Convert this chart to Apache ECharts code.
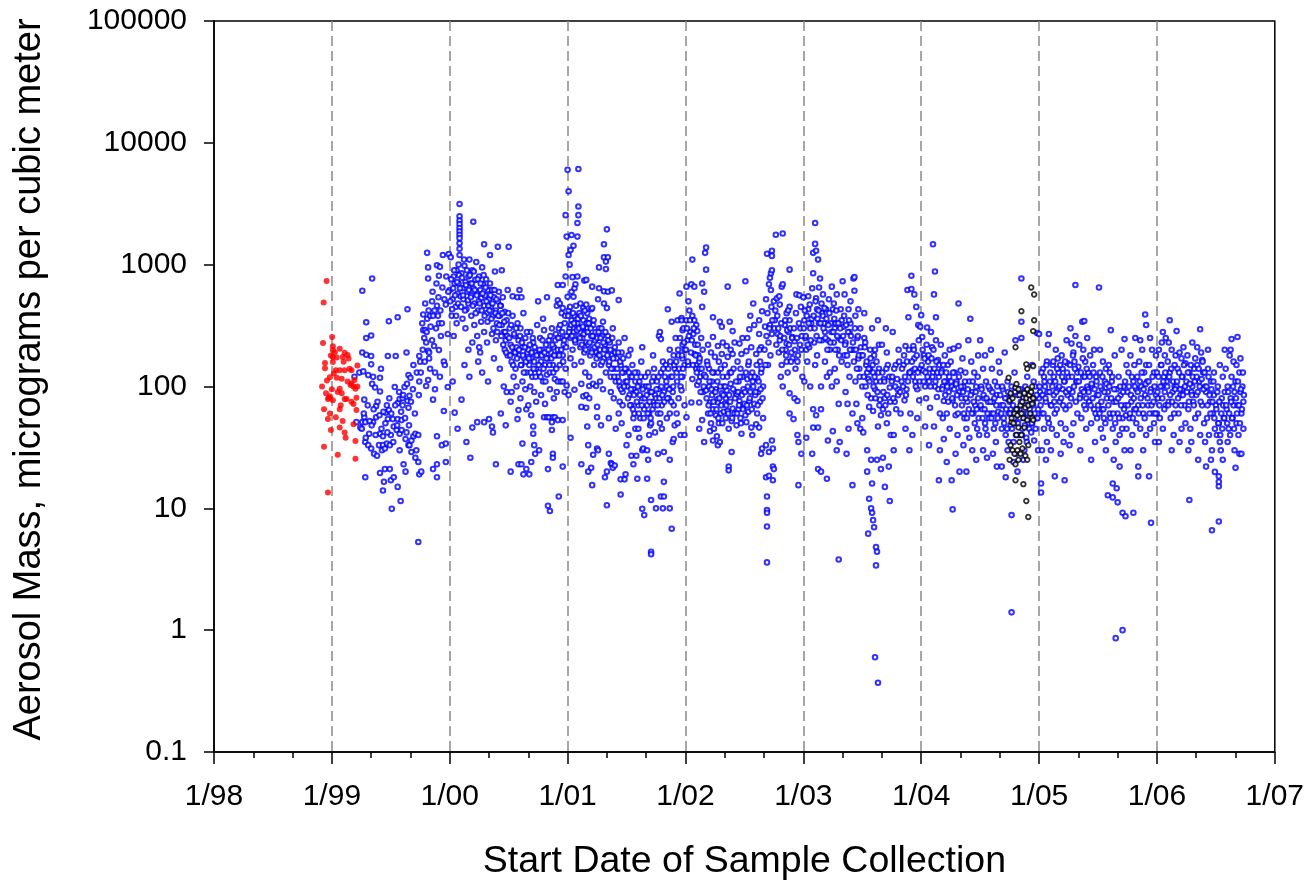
<!DOCTYPE html>
<html><head><meta charset="utf-8">
<script src="https://cdn.jsdelivr.net/npm/echarts@6/dist/echarts.min.js"></script>
<style>html,body{margin:0;padding:0;background:#fff}#c{width:1307px;height:890px}</style>
</head><body><div id="c"></div>
<script>
// x values are months counted from January 1998 (0 = 1/98, 12 = 1/99, ...)
const xTickLabels = ['1/98','1/99','1/00','1/01','1/02','1/03','1/04','1/05','1/06','1/07'];
const yTickLabels = {'-1':'0.1','0':'1','1':'10','2':'100','3':'1000','4':'10000','5':'100000'};

const redPts = [[11.46,736],[11.16,490],[12.03,255],[11.1,228],[11.6,13.5],[11.2,32],[12.6,27.5],[14.4,25.5],[14.4,35.7],[14.2,49],[11.9,44],[11.6,54],[11.2,65],[12.4,56],[13.1,52],[12.8,46],[13.3,42],[13.4,38],[12.8,65],[12.1,77],[11.7,81],[11.8,83],[13.0,88],[13.5,79],[14.0,75],[14.5,81],[14.2,72],[14.5,64],[14.0,106],[14.2,100],[13.9,103],[14.4,96],[14.6,100],[14.0,136],[14.6,149],[13.3,136],[13.0,116],[12.5,118],[11.8,119],[12.8,136],[12.4,136],[11.3,156],[11.3,141],[12.1,159],[12.1,175],[11.9,180],[12.3,191],[12.8,204],[13.3,189],[13.7,170],[13.6,181],[12.1,214],[12.1,199],[12.5,173],[13.1,175],[11.5,112],[12.8,96],[13.3,79],[11.6,79],[12.0,95],[12.6,90],[13.8,140],[13.2,160],[12.2,128],[11.0,100],[11.4,88],[14.3,113],[13.6,110],[12.9,70],[11.8,60]];

const blackPts = [[80.9,118],[81.0,77],[81.0,25],[81.1,88],[81.1,33],[81.2,51],[81.2,55],[81.3,30],[81.3,80],[81.4,50],[81.5,28],[81.5,60],[81.6,210],[81.6,98],[81.6,23],[81.6,17],[81.7,40],[81.7,65],[81.7,105],[81.8,30],[81.8,58],[81.9,95],[81.9,46],[81.9,25],[82.0,85],[82.0,35],[82.1,70],[82.1,28],[82.2,415],[82.2,40],[82.2,60],[82.3,75],[82.3,31],[82.4,55],[82.4,15.8],[82.5,88],[82.5,46],[82.6,27],[82.6,67],[82.7,152],[82.7,80],[82.7,11.5],[82.8,140],[82.8,95],[82.8,53],[82.8,25],[82.9,70],[82.9,33],[82.9,8.5],[83.0,85],[83.1,60],[83.1,78],[83.2,650],[83.2,90],[83.3,55],[83.3,72],[83.4,285],[83.4,147],[83.4,53],[83.5,350],[83.5,569],[83.4,80],[83.3,100]];

const blue1999 = [[14.3,120],[14.5,51],[14.8,130],[14.9,46],[15.1,610],[15.1,190],[15.1,51],[15.2,133],[15.3,78],[15.3,56],[15.4,51],[15.4,35],[15.4,18],[15.5,337],[15.5,250],[15.5,182],[15.7,124],[15.7,33],[15.8,41],[16.0,262],[16.0,178],[16.0,152],[16.0,31],[16.1,770],[16.1,105],[16.2,120],[16.2,51],[16.3,28],[16.4,98],[16.5,69],[16.5,56],[16.6,27],[16.8,33],[16.9,118],[16.9,91],[16.9,41],[16.9,19.5],[17.0,140],[17.1,30],[17.2,39],[17.2,33],[17.2,14],[17.3,16.5],[17.4,31],[17.4,21],[17.5,61],[17.6,70],[17.6,34],[17.7,178],[17.7,54],[17.8,343],[17.8,64],[17.9,33],[17.9,21],[18.0,40],[18.0,17],[18.1,9.9],[18.2,54],[18.3,47],[18.3,18],[18.4,99],[18.5,178],[18.6,44],[18.7,370],[18.7,73],[18.7,54],[18.7,15],[18.9,79],[18.9,41],[18.9,30],[19.0,11.5],[19.1,53],[19.1,44],[19.2,80],[19.2,70],[19.3,23],[19.4,99],[19.5,37],[19.5,20],[19.6,190],[19.6,42],[19.7,430],[19.7,76],[19.8,124],[19.8,67],[19.8,33],[19.9,84],[19.9,33],[20.0,118],[20.1,36],[20.1,29],[20.3,150],[20.3,39],[20.5,41],[20.5,26],[20.6,30],[20.8,40],[20.8,24],[20.8,5.3],[20.9,178],[20.9,110],[20.9,19],[21.0,160],[21.1,20],[21.2,330],[21.3,390],[21.3,290],[21.4,250],[21.5,480],[21.5,290],[21.6,230],[21.6,101],[21.7,1250],[21.7,360],[21.8,950],[21.8,770],[21.8,196],[21.8,113],[21.9,190],[21.9,170],[22.0,380],[22.0,140],[22.2,500],[22.2,240],[22.3,380],[22.3,78],[22.3,21],[22.4,215],[22.5,130],[22.5,95],[22.6,300],[22.7,990],[22.7,460],[22.7,39],[22.7,23],[22.7,18],[22.8,380],[22.9,810],[22.9,330],[22.9,199],[23.0,960],[23.0,120],[23.1,260],[23.2,330],[23.2,33],[23.3,1200],[23.4,160],[23.4,63],[23.5,150],[23.6,470],[23.6,34],[23.6,24],[23.8,270],[23.8,99],[23.9,1220]];

const blue2000 = [[24.0,620],[24.1,1150],[24.2,380],[24.3,520],[24.3,110],[24.4,800],[24.4,260],[24.5,700],[24.5,61],[24.6,450],[24.7,900],[24.7,330],[24.8,580],[24.8,45],[24.9,1000],[24.9,700],[25.0,3150],[25.0,2500],[25.0,2300],[25.0,2150],[25.0,2000],[25.0,1880],[25.0,1760],[25.0,1650],[25.0,1500],[25.0,1350],[25.0,1200],[25.1,550],[25.2,850],[25.2,78],[25.3,640],[25.3,360],[25.4,520],[25.5,980],[25.5,150],[25.6,720],[25.6,300],[25.7,430],[25.7,35],[25.8,600],[25.9,800],[25.9,480],[25.9,200],[26.0,1100],[26.0,120],[26.1,700],[26.1,26],[26.2,560],[26.2,380],[26.3,900],[26.3,230],[26.3,46],[26.4,2250],[26.4,640],[26.5,480],[26.5,320],[26.6,750],[26.7,1050],[26.8,590],[26.8,260],[26.8,51],[26.9,420],[26.9,160],[27.0,800],[27.0,210],[27.1,620],[27.1,190],[27.2,530],[27.2,340],[27.3,950],[27.3,130],[27.4,690],[27.5,1470],[27.5,460],[27.5,280],[27.5,51],[27.6,560],[27.7,760],[27.8,400],[27.8,230],[27.9,620],[27.9,110],[28.0,520],[28.0,54],[28.1,1200],[28.1,700],[28.2,450],[28.3,620],[28.3,270],[28.3,47],[28.4,380],[28.4,42],[28.5,540],[28.5,170],[28.6,880],[28.7,420],[28.7,240],[28.7,23],[28.8,330],[28.9,1400],[28.9,500],[29.0,600],[29.1,380],[29.1,140],[29.2,460],[29.2,60],[29.3,900],[29.3,320],[29.4,540],[29.5,280],[29.5,100],[29.6,410],[29.6,200],[29.7,240],[29.7,48],[29.8,350],[29.8,90],[29.9,620],[29.9,180],[30.0,1400],[30.1,300],[30.2,220],[30.2,75],[30.2,20],[30.3,160],[30.3,90],[30.4,550],[30.4,380],[30.5,190],[30.5,120],[30.6,260],[30.7,140],[30.8,210],[30.8,100],[30.9,540],[30.9,330],[30.9,54],[31.0,240],[31.0,64],[31.0,23],[31.1,620],[31.1,180],[31.2,300],[31.2,80],[31.3,540],[31.3,150],[31.3,23],[31.4,210],[31.4,110],[31.4,34],[31.5,400],[31.5,19],[31.6,170],[31.7,250],[31.7,95],[31.8,130],[31.8,65],[31.8,21],[31.9,190],[32.0,200],[32.0,70],[32.1,150],[32.1,19],[32.2,280],[32.2,100],[32.3,170],[32.3,58],[32.3,24],[32.4,120],[32.5,230],[32.5,47],[32.5,41],[32.6,160],[32.6,90],[32.6,33],[32.7,190],[32.7,28],[32.8,140],[32.8,75],[32.9,320],[33.0,500],[33.0,180],[33.1,130],[33.1,30],[33.2,250],[33.3,160],[33.3,85],[33.4,200],[33.5,360],[33.5,110],[33.6,290],[33.6,56],[33.7,150],[33.7,72],[33.8,220],[33.9,540],[33.9,125],[33.9,56],[34.0,170],[34.0,21],[34.0,10.5],[34.1,240],[34.1,56],[34.2,130],[34.2,95],[34.2,9.5],[34.3,190],[34.4,300],[34.4,51],[34.4,44],[34.5,150],[34.5,56],[34.5,28],[34.5,26],[34.6,210],[34.6,80],[34.7,115],[34.7,56],[34.8,270],[34.9,460],[34.9,180],[34.9,90],[35.0,680],[35.0,510],[35.0,200],[35.0,110],[35.0,53],[35.1,300],[35.1,12.5],[35.2,480],[35.2,150],[35.3,250],[35.3,110],[35.4,400],[35.5,680],[35.5,440],[35.5,180],[35.5,110],[35.5,53],[35.5,22],[35.6,220],[35.7,330],[35.7,90],[35.8,2550],[35.8,800],[35.8,140],[35.9,1700],[35.9,260],[35.9,102]];

const blue2001 = [[36.0,6000],[36.0,545],[36.1,4000],[36.1,1200],[36.1,420],[36.1,85],[36.2,1000],[36.2,300],[36.3,1320],[36.3,250],[36.3,170],[36.3,38],[36.4,1750],[36.4,600],[36.4,350],[36.5,790],[36.5,200],[36.6,1430],[36.6,545],[36.6,280],[36.7,640],[36.7,380],[36.7,150],[36.7,94],[36.8,690],[36.8,230],[36.9,320],[37.0,2200],[37.0,1700],[37.0,800],[37.0,330],[37.1,6100],[37.1,3000],[37.1,2550],[37.1,260],[37.2,400],[37.3,480],[37.3,210],[37.4,300],[37.4,160],[37.4,105],[37.4,68],[37.4,23],[37.5,250],[37.6,440],[37.6,350],[37.6,83],[37.7,740],[37.7,190],[37.8,280],[37.8,130],[37.9,750],[37.9,470],[37.9,230],[37.9,85],[37.9,67],[38.0,400],[38.0,300],[38.0,47],[38.1,220],[38.1,33],[38.1,20],[38.2,360],[38.2,120],[38.2,101],[38.2,80],[38.3,180],[38.4,430],[38.4,260],[38.4,21.5],[38.5,660],[38.5,440],[38.5,200],[38.5,15.5],[38.6,320],[38.6,105],[38.6,27.5],[38.7,150],[38.8,240],[38.9,190],[38.9,101],[39.0,250],[39.0,68],[39.0,56],[39.0,31],[39.1,520],[39.1,180],[39.1,30],[39.2,950],[39.2,640],[39.2,300],[39.3,200],[39.3,110],[39.4,150],[39.4,48],[39.5,260],[39.6,340],[39.6,95],[39.7,1470],[39.7,1150],[39.7,605],[39.7,480],[39.7,170],[39.8,220],[39.8,18],[39.9,1060],[39.9,920],[39.9,130],[40.0,1950],[40.0,440],[40.0,200],[40.0,20],[40.0,10.6],[40.1,1150],[40.1,600],[40.1,260],[40.2,150],[40.2,55],[40.2,28],[40.3,230],[40.4,120],[40.4,90],[40.4,23.5],[40.5,615],[40.5,180],[40.5,23],[40.6,300],[40.6,21.5],[40.7,140],[40.7,80],[40.8,210],[40.8,22.5],[40.9,110],[40.9,45],[41.0,170],[41.1,120],[41.2,512],[41.2,230],[41.2,60],[41.3,100],[41.3,75],[41.4,150],[41.4,17.3],[41.4,13],[41.5,190],[41.5,50],[41.6,90],[41.6,70],[41.7,130],[41.8,250],[41.8,17.3],[41.9,110],[41.9,19],[42.0,140],[42.0,33],[42.1,100],[42.2,180],[42.2,40],[42.3,85],[42.4,200],[42.4,120],[42.5,70],[42.5,27],[42.6,150],[42.7,95],[42.7,55],[42.7,23],[42.8,60],[42.9,110],[42.9,45],[43.0,90],[43.0,27],[43.1,130],[43.1,17.5],[43.2,70],[43.2,45],[43.3,110],[43.3,38],[43.4,55],[43.5,160],[43.6,210],[43.6,80],[43.6,30],[43.6,9.9],[43.7,100],[43.7,31],[43.8,65],[43.8,8.8],[43.9,120],[44.0,100],[44.1,70],[44.1,30],[44.1,17.5],[44.2,130],[44.2,25],[44.3,60],[44.3,40],[44.4,90],[44.4,48],[44.5,50],[44.5,11.7],[44.5,4.4],[44.5,4.2],[44.6,110],[44.7,180],[44.7,75],[44.8,140],[44.9,85],[44.9,42],[45.0,80],[45.0,10],[45.1,110],[45.2,60],[45.2,28],[45.3,260],[45.3,95],[45.4,280],[45.4,50],[45.5,245],[45.5,130],[45.5,12.5],[45.6,70],[45.6,45],[45.7,160],[45.7,10],[45.8,90],[45.8,29],[45.8,16.5],[45.8,12.5],[45.9,120],[46.0,150],[46.1,100],[46.1,55],[46.2,430],[46.3,80],[46.4,200],[46.4,60],[46.4,25],[46.4,10],[46.5,120],[46.6,340],[46.6,6.8],[46.7,90],[46.7,35],[46.8,180],[46.8,70],[46.8,37],[46.9,140],[46.9,48],[47.0,250],[47.1,130],[47.1,60],[47.2,350],[47.2,50],[47.3,180],[47.3,80],[47.4,580],[47.5,100],[47.5,40],[47.6,365],[47.6,350],[47.6,93],[47.7,220],[47.7,290],[47.7,170],[47.7,120],[47.8,300],[47.9,150],[47.9,200],[47.9,70],[47.9,40]];

const blue2002 = [[48.1,660],[48.1,350],[48.1,56],[48.2,240],[48.3,500],[48.3,150],[48.4,420],[48.5,280],[48.6,690],[48.6,74],[48.7,1100],[48.7,380],[48.7,115],[48.8,270],[48.9,660],[48.9,350],[48.9,185],[49.0,220],[49.1,320],[49.1,150],[49.1,140],[49.2,285],[49.2,103],[49.3,180],[49.4,160],[49.4,140],[49.4,74],[49.4,45],[49.5,120],[49.6,250],[49.7,700],[49.7,450],[49.7,53],[49.8,90],[49.9,600],[49.9,125],[49.9,35],[50.0,1250],[50.1,1380],[50.1,910],[50.1,93],[50.2,160],[50.3,220],[50.3,60],[50.4,140],[50.4,100],[50.5,74],[50.5,43],[50.6,190],[50.6,50],[50.7,110],[50.7,85],[50.8,370],[50.8,255],[50.8,65],[50.8,36],[50.9,130],[50.9,45],[51.0,175],[51.1,95],[51.1,58],[51.2,78],[51.2,39],[51.3,215],[51.3,130],[51.3,74],[51.3,33],[51.4,160],[51.4,50],[51.5,340],[51.5,35],[51.6,60],[51.6,140],[51.7,310],[51.7,185],[51.7,88],[51.8,230],[51.8,120],[51.9,100],[51.9,62],[52.0,150],[52.0,72],[52.1,55],[52.1,80],[52.2,215],[52.2,93],[52.3,660],[52.3,175],[52.3,63],[52.4,22],[52.4,20.5],[52.4,45],[52.5,340],[52.5,130],[52.6,105],[52.6,200],[52.7,29],[52.7,52],[52.8,285],[52.8,185],[52.8,66],[52.9,140],[53.0,230],[53.0,60],[53.1,90],[53.2,48],[53.2,85],[53.3,160],[53.4,110],[53.4,65],[53.5,225],[53.5,76],[53.6,140],[53.6,55],[53.7,185],[53.7,41],[53.8,120],[53.8,250],[53.9,95],[53.9,68],[54.0,72],[54.1,730],[54.1,58],[54.2,195],[54.2,51],[54.3,115],[54.3,250],[54.4,150],[54.4,62],[54.5,295],[54.5,76],[54.6,380],[54.6,90],[54.7,210],[54.7,46],[54.8,130],[54.8,40],[54.9,480],[54.9,100],[55.0,320],[55.0,72],[55.1,85],[55.2,185],[55.2,49],[55.3,117],[55.3,60],[55.4,90],[55.5,270],[55.5,350],[55.5,46],[55.6,160],[55.6,75],[55.7,210],[55.7,130],[55.7,28],[55.8,415],[55.8,31],[55.9,100],[55.9,55],[56.1,310],[56.2,520],[56.2,33],[56.2,18],[56.3,1230],[56.3,12.5],[56.3,9.7],[56.3,9.2],[56.3,7.1],[56.3,3.6],[56.4,150],[56.5,690],[56.5,29],[56.5,18.5],[56.6,780],[56.6,320],[56.7,850],[56.7,620],[56.8,1300],[56.8,1180],[56.8,900],[56.8,270],[56.8,36],[56.9,31],[56.9,22],[56.9,17],[57.0,500],[57.0,21],[57.1,350],[57.2,1760],[57.3,530],[57.4,270],[57.5,190],[57.6,470],[57.6,240],[57.7,120],[57.8,660],[57.8,150],[57.9,1800],[57.9,690],[57.9,100],[58.1,320],[58.2,200],[58.3,400],[58.3,225],[58.3,160],[58.4,130],[58.5,280],[58.6,910],[58.6,450],[58.6,350],[58.6,88],[58.6,60],[58.8,190],[58.9,255],[58.9,170],[59.0,54],[59.1,235],[59.1,80],[59.2,140],[59.3,570],[59.4,160],[59.4,76],[59.4,40],[59.5,35],[59.5,15.5],[59.6,560],[59.7,300],[59.8,28],[59.8,200],[59.9,120]];

const blue2003 = [[60.0,540],[60.1,350],[60.1,110],[60.2,250],[60.3,38],[60.3,200],[60.4,160],[60.5,550],[60.5,430],[60.6,210],[60.7,100],[60.7,300],[60.8,330],[60.9,640],[60.9,28],[61.0,1250],[61.0,850],[61.0,65],[61.0,46],[61.1,230],[61.2,2200],[61.2,1480],[61.2,150],[61.3,1300],[61.3,530],[61.3,58],[61.4,430],[61.4,180],[61.5,1100],[61.5,46],[61.5,21],[61.6,330],[61.6,650],[61.7,770],[61.8,100],[61.8,65],[61.8,20],[61.9,240],[61.9,400],[62.0,570],[62.0,380],[62.1,330],[62.2,160],[62.2,280],[62.3,430],[62.4,17.5],[62.4,120],[62.5,36],[62.5,240],[62.6,520],[62.7,130],[62.7,200],[62.8,330],[62.9,660],[62.9,100],[63.0,43],[63.0,430],[63.1,230],[63.1,480],[63.2,140],[63.2,300],[63.3,330],[63.4,570],[63.4,30],[63.4,110],[63.5,200],[63.6,72],[63.6,3.8],[63.6,250],[63.7,35],[63.8,430],[63.9,160],[63.9,350],[64.0,730],[64.1,310],[64.2,570],[64.2,180],[64.3,230],[64.3,90],[64.4,28],[64.5,72],[64.5,150],[64.6,45],[64.6,430],[64.7,120],[64.7,280],[64.8,330],[64.8,500],[64.9,200],[65.0,15.5],[65.0,60],[65.1,770],[65.1,200],[65.2,610],[65.2,790],[65.3,380],[65.3,110],[65.4,72],[65.5,250],[65.5,50],[65.6,430],[65.6,170],[65.7,140],[65.8,300],[65.8,45],[65.9,180],[66.0,100],[66.0,55],[66.1,42],[66.2,400],[66.2,250],[66.3,230],[66.4,150],[66.5,30],[66.5,20],[66.5,130],[66.6,6.2],[66.6,115],[66.7,68],[66.7,12],[66.8,200],[66.8,140],[66.9,80],[66.9,25],[66.9,10],[67.0,300],[67.0,9.2],[67.0,16],[67.1,63],[67.1,130],[67.1,8.0],[67.2,180],[67.2,7.0],[67.3,95],[67.3,200],[67.3,0.6],[67.4,110],[67.4,4.8],[67.4,3.4],[67.5,25],[67.5,4.4],[67.6,350],[67.6,47],[67.6,0.37],[67.7,140],[67.7,220],[67.8,78],[67.9,21],[67.9,58],[68.0,220],[68.1,26],[68.1,65],[68.2,115],[68.3,80],[68.3,15],[68.4,300],[68.5,50],[68.5,190],[68.6,150],[68.7,22],[68.8,98],[68.8,11.5],[68.9,40],[69.0,110],[69.1,280],[69.2,40],[69.2,30],[69.3,75],[69.4,150],[69.6,95],[69.7,200],[69.9,60],[70.0,110],[70.2,150],[70.3,77],[70.4,215],[70.4,45],[70.5,95],[70.6,620],[70.7,370],[70.8,130],[70.8,30],[70.9,60],[71.0,810],[71.0,630],[71.1,135],[71.1,40],[71.2,215],[71.3,570],[71.3,170],[71.4,110],[71.5,450],[71.6,95],[71.6,55],[71.7,320],[71.8,77],[71.9,310],[71.9,140]];

const blue2004 = [[72.0,385],[72.1,255],[72.2,135],[72.3,180],[72.4,100],[72.4,47],[72.5,80],[72.6,305],[72.7,160],[72.8,110],[72.8,33],[72.9,67],[73.0,280],[73.1,210],[73.2,1470],[73.2,130],[73.3,570],[73.3,47],[73.4,880],[73.4,100],[73.5,370],[73.5,240],[73.6,82],[73.7,165],[73.8,120],[73.8,17],[73.9,60],[73.9,30],[74.0,220],[74.1,135],[74.2,100],[74.2,55],[74.3,76],[74.3,37],[74.4,180],[74.5,110],[74.6,60],[74.6,24],[74.7,150],[74.8,90],[74.9,45],[74.9,200],[75.0,160],[75.1,100],[75.1,17],[75.2,9.8],[75.2,77],[75.3,205],[75.4,130],[75.5,58],[75.5,28],[75.6,110],[75.7,40],[75.8,480],[75.8,215],[75.9,90],[75.9,20],[76.0,135],[76.1,80],[76.2,170],[76.3,100],[76.3,33],[76.4,55],[76.5,130],[76.6,45],[76.6,20],[76.7,75],[76.8,240],[76.9,110],[76.9,38],[77.0,360],[77.1,160],[77.2,90],[77.2,30],[77.3,60],[77.4,130],[77.5,70],[77.6,100],[77.6,25],[77.7,45],[77.8,80],[77.8,180],[77.9,40],[78.0,240],[78.1,100],[78.2,65],[78.3,140],[78.3,30],[78.4,80],[78.5,50],[78.5,180],[78.6,110],[78.7,40],[78.7,26],[78.8,75],[78.9,55],[79.0,95],[79.1,60],[79.1,200],[79.2,140],[79.3,75],[79.3,28],[79.4,45],[79.5,110],[79.6,35],[79.7,85],[79.7,22],[79.8,55],[79.9,160],[80.0,130],[80.1,70],[80.2,45],[80.2,22],[80.3,95],[80.4,55],[80.5,190],[80.6,40],[80.6,18],[80.7,80],[80.8,30],[80.8,110],[80.9,60],[80.9,35],[81.0,75],[81.1,48],[81.1,65],[81.2,1.4],[81.2,8.8],[81.2,100],[81.3,60],[81.4,35],[81.4,24],[81.5,130],[81.6,240],[81.6,50],[81.7,28],[81.8,85],[81.8,20],[81.9,40],[82.0,65],[82.1,95],[82.2,770],[82.2,340],[82.2,250],[82.3,45],[82.4,80],[82.4,25],[82.5,30],[82.6,55],[82.6,100],[82.7,38],[82.8,120],[82.9,70],[82.9,50],[83.0,85],[83.0,45],[83.1,60],[83.2,42],[83.3,150],[83.3,50],[83.4,70],[83.5,36],[83.6,100],[83.6,80],[83.7,55],[83.8,275],[83.9,30],[83.9,65]];

const blue2005 = [[84.0,270],[84.0,80],[84.1,90],[84.2,16],[84.2,13.5],[84.3,60],[84.3,30],[84.4,140],[84.5,45],[84.5,120],[84.6,100],[84.7,75],[84.7,25],[84.8,35],[84.8,160],[84.9,220],[84.9,55],[85.0,270],[85.0,50],[85.1,110],[85.2,70],[85.2,30],[85.3,45],[85.4,150],[85.5,85],[85.5,120],[85.6,18.3],[85.6,60],[85.7,200],[85.8,40],[85.8,65],[85.9,95],[85.9,170],[86.0,130],[86.1,75],[86.2,50],[86.2,28],[86.3,180],[86.4,95],[86.4,140],[86.5,35],[86.6,17],[86.6,110],[86.7,65],[86.7,45],[86.8,240],[86.9,85],[86.9,155],[87.0,120],[87.1,70],[87.1,33],[87.2,300],[87.3,225],[87.3,40],[87.4,90],[87.5,50],[87.5,190],[87.6,160],[87.7,680],[87.7,260],[87.8,110],[87.9,60],[87.9,130],[88.0,145],[88.1,220],[88.2,85],[88.2,30],[88.3,55],[88.4,340],[88.5,120],[88.5,200],[88.6,345],[88.6,70],[88.7,160],[88.8,45],[88.8,80],[88.9,100],[88.9,250],[89.0,130],[89.0,95],[89.1,75],[89.2,180],[89.3,50],[89.3,25],[89.4,100],[89.5,150],[89.6,65],[89.6,200],[89.7,35],[89.8,120],[89.9,85],[89.9,55],[90.0,70],[90.1,650],[90.2,130],[90.2,200],[90.3,45],[90.4,95],[90.4,65],[90.5,160],[90.5,38],[90.6,55],[90.7,110],[90.8,30],[90.8,140],[90.9,80],[91.0,12.8],[91.0,90],[91.1,150],[91.2,60],[91.2,130],[91.3,290],[91.4,110],[91.5,16],[91.5,12.3],[91.5,45],[91.6,75],[91.6,25],[91.7,180],[91.8,0.86],[91.8,35],[91.9,14.6],[91.9,95],[92.0,11.2],[92.0,60],[92.1,120],[92.2,40],[92.2,22],[92.3,85],[92.4,200],[92.5,9.2],[92.5,1.0],[92.5,55],[92.6,100],[92.7,245],[92.7,30],[92.8,8.6],[92.8,70],[92.9,150],[92.9,45],[93.0,90],[93.1,130],[93.2,55],[93.3,180],[93.3,30],[93.4,75],[93.5,40],[93.6,9.2],[93.6,110],[93.7,65],[93.7,150],[93.8,250],[93.9,95],[93.9,50],[94.0,120],[94.1,22],[94.1,18.3],[94.1,70],[94.2,160],[94.3,45],[94.3,240],[94.4,100],[94.5,200],[94.6,60],[94.6,30],[94.7,130],[94.8,390],[94.8,85],[94.9,320],[94.9,40],[94.9,150],[95.0,110],[95.1,70],[95.2,18.3],[95.2,150],[95.3,45],[95.3,250],[95.4,7.6],[95.4,95],[95.5,200],[95.6,60],[95.7,130],[95.7,50],[95.8,35],[95.9,85],[95.9,180]];

const blue2006 = [[96.0,130],[96.0,60],[96.1,80],[96.2,200],[96.2,35],[96.3,55],[96.4,150],[96.5,100],[96.5,230],[96.6,280],[96.6,45],[96.7,120],[96.8,180],[96.8,90],[96.9,70],[96.9,250],[97.0,110],[97.1,160],[97.2,75],[97.2,230],[97.3,350],[97.3,130],[97.4,55],[97.5,200],[97.5,30],[97.6,90],[97.7,40],[97.8,150],[97.8,100],[97.9,70],[97.9,180],[98.0,285],[98.0,100],[98.1,140],[98.2,60],[98.3,190],[98.3,35],[98.4,85],[98.5,45],[98.5,170],[98.6,120],[98.6,95],[98.7,210],[98.8,70],[98.9,155],[98.9,50],[99.0,110],[99.1,180],[99.2,65],[99.2,30],[99.3,11.7],[99.3,130],[99.4,45],[99.5,90],[99.5,35],[99.6,230],[99.6,100],[99.7,75],[99.8,140],[99.9,55],[99.9,170],[100.0,85],[100.1,150],[100.1,210],[100.2,60],[100.2,25],[100.3,110],[100.4,295],[100.4,40],[100.5,190],[100.6,70],[100.6,165],[100.7,130],[100.8,50],[100.9,100],[100.9,35],[101.0,22],[101.0,90],[101.1,55],[101.2,140],[101.2,200],[101.3,40],[101.4,75],[101.5,110],[101.5,25],[101.6,6.6],[101.6,30],[101.7,60],[101.8,85],[101.8,130],[101.9,19.9],[101.9,45],[102.0,70],[102.1,40],[102.2,100],[102.3,7.8],[102.3,15.2],[102.3,16.5],[102.3,18.3],[102.3,50],[102.4,150],[102.4,35],[102.5,30],[102.6,80],[102.7,120],[102.7,25],[102.8,55],[102.9,200],[102.9,90],[103.0,140],[103.1,65],[103.2,100],[103.2,35],[103.3,45],[103.4,180],[103.5,80],[103.5,200],[103.6,245],[103.6,120],[103.7,55],[103.8,160],[103.8,70],[103.9,90],[103.9,30],[104.0,21.5],[104.0,110],[104.1,150],[104.1,50],[104.2,255],[104.2,70],[104.3,40],[104.4,28],[104.4,130],[104.5,90],[104.5,170],[104.6,60],[104.6,28],[104.7,100],[104.8,75],[104.8,45]];

// additional samples
const blueCoreA = [[15.05,45],[15.25,60],[15.45,38],[15.65,70],[15.85,52],[16.05,48],[16.25,65],[16.45,40],[16.65,75],[16.85,58],[17.05,45],[17.25,62],[17.45,50],[17.65,42],[17.85,80],[18.05,60],[18.25,35],[18.45,70],[18.65,48],[18.85,90],[19.05,62],[19.25,85],[19.45,55],[19.65,105],[19.85,48],[20.05,75],[20.25,95],[20.45,60],[20.65,130],[20.85,85],[21.05,130],[21.25,200],[21.45,160],[21.65,280],[21.85,420],[22.05,310],[22.25,600],[22.45,420],[22.65,700],[22.85,540],[23.05,420],[23.25,650],[23.45,520],[23.65,800],[23.85,600],[24.05,500],[24.15,760],[24.25,430],[24.35,640],[24.45,900],[24.55,560],[24.65,380],[24.75,720],[24.85,480],[24.95,820],[25.05,640],[25.15,450],[25.25,780],[25.35,560],[25.45,1100],[25.55,420],[25.65,680],[25.75,900],[25.85,510],[25.95,620],[26.05,820],[26.15,540],[26.25,700],[26.35,460],[26.45,880],[26.55,620],[26.65,400],[26.75,560],[26.85,760],[26.95,500],[27.05,480],[27.15,700],[27.25,420],[27.35,580],[27.45,820],[27.55,380],[27.65,650],[27.75,500],[27.85,340],[27.95,460],[28.05,420],[28.15,560],[28.25,360],[28.35,480],[28.45,300],[28.55,620],[28.65,400],[28.75,520],[28.85,280],[28.95,380],[29.05,320],[29.15,460],[29.25,260],[29.35,400],[29.45,220],[29.55,340],[29.65,280],[29.75,190],[29.85,260],[29.95,400],[30.05,250],[30.15,180],[30.25,320],[30.35,210],[30.45,150],[30.55,270],[30.65,190],[30.75,300],[30.85,170],[31.05,200],[31.15,260],[31.25,150],[31.35,230],[31.45,180],[31.55,130],[31.65,210],[31.75,160],[31.85,280],[32.05,170],[32.15,220],[32.25,130],[32.35,190],[32.45,250],[32.55,140],[32.65,210],[32.75,120],[32.85,180],[33.05,150],[33.15,200],[33.25,120],[33.35,180],[33.45,240],[33.55,140],[33.65,190],[33.75,110],[33.85,170],[34.05,200],[34.15,150],[34.25,260],[34.35,170],[34.45,220],[34.55,130],[34.65,180],[34.75,240],[34.85,140],[35.05,250],[35.15,180],[35.25,320],[35.35,200],[35.45,280],[35.55,160],[35.65,240],[35.75,380],[35.85,210],[36.05,380],[36.15,280],[36.25,450],[36.35,320],[36.45,260],[36.55,400],[36.65,330],[36.75,240],[36.85,460],[36.95,290],[37.05,360],[37.15,300],[37.25,250],[37.35,380],[37.45,220],[37.55,310],[37.65,270],[37.75,420],[37.85,200],[37.95,330],[38.05,280],[38.15,330],[38.25,230],[38.35,300],[38.45,190],[38.55,260],[38.65,350],[38.75,210],[38.85,280],[38.95,170],[39.05,220],[39.15,280],[39.25,180],[39.35,250],[39.45,300],[39.55,160],[39.65,230],[39.75,200],[39.85,280],[40.05,180],[40.15,240],[40.25,160],[40.35,200],[40.45,140],[40.55,250],[40.65,170],[40.75,120],[40.85,190],[41.05,140],[41.15,190],[41.25,110],[41.35,160],[41.45,95],[41.55,130],[41.65,170],[41.75,100],[41.85,140],[42.05,110],[42.15,80],[42.25,130],[42.35,70],[42.45,95],[42.55,120],[42.65,65],[42.75,85],[42.85,130],[43.05,75],[43.15,100],[43.25,60],[43.35,85],[43.45,120],[43.55,70],[43.65,95],[43.75,55],[43.85,80],[44.05,85],[44.15,60],[44.25,100],[44.35,75],[44.45,55],[44.55,90],[44.65,65],[44.75,120],[44.85,70],[45.05,95],[45.15,70],[45.25,120],[45.35,80],[45.45,60],[45.55,100],[45.65,85],[45.75,140],[45.85,75],[46.05,110],[46.15,80],[46.25,140],[46.35,95],[46.45,160],[46.55,75],[46.65,120],[46.75,100],[46.85,150],[47.05,160],[47.15,110],[47.25,200],[47.35,140],[47.45,250],[47.55,120],[47.65,180],[47.75,140],[47.85,230]];

const blueCoreB = [[48.05,200],[48.15,300],[48.25,160],[48.35,260],[48.45,350],[48.55,190],[48.65,240],[48.75,150],[48.85,300],[49.05,180],[49.15,130],[49.25,220],[49.35,110],[49.45,170],[49.55,90],[49.65,140],[49.75,200],[49.85,100],[50.05,120],[50.15,80],[50.25,150],[50.35,70],[50.45,110],[50.55,60],[50.65,95],[50.75,130],[50.85,75],[51.05,90],[51.15,65],[51.25,110],[51.35,55],[51.45,80],[51.55,100],[51.65,70],[51.75,50],[51.85,85],[52.05,100],[52.15,70],[52.25,120],[52.35,60],[52.45,85],[52.55,75],[52.65,130],[52.75,55],[52.85,95],[53.05,80],[53.15,110],[53.25,60],[53.35,90],[53.45,70],[53.55,120],[53.65,50],[53.75,85],[53.85,65],[54.05,90],[54.15,130],[54.25,70],[54.35,100],[54.45,160],[54.55,80],[54.65,120],[54.75,65],[54.85,110],[55.05,120],[55.15,90],[55.25,150],[55.35,70],[55.45,110],[55.55,200],[55.65,95],[55.75,140],[55.85,80],[56.05,200],[56.15,150],[56.25,260],[56.35,400],[56.45,230],[56.55,300],[56.65,180],[56.75,450],[56.85,350],[57.05,300],[57.15,420],[57.25,220],[57.35,380],[57.45,300],[57.55,550],[57.65,260],[57.75,330],[57.85,200],[58.05,250],[58.15,350],[58.25,180],[58.35,290],[58.45,420],[58.55,220],[58.65,300],[58.75,160],[58.85,250],[59.05,300],[59.15,200],[59.25,400],[59.35,250],[59.45,180],[59.55,330],[59.65,220],[59.75,450],[59.85,260],[60.05,300],[60.15,420],[60.25,260],[60.35,380],[60.45,220],[60.55,330],[60.65,470],[60.75,240],[60.85,360],[61.05,380],[61.15,300],[61.25,500],[61.35,260],[61.45,360],[61.55,420],[61.65,240],[61.75,330],[61.85,480],[62.05,300],[62.15,440],[62.25,250],[62.35,360],[62.45,200],[62.55,320],[62.65,400],[62.75,230],[62.85,280],[63.05,280],[63.15,360],[63.25,200],[63.35,420],[63.45,260],[63.55,330],[63.65,180],[63.75,300],[63.85,240],[64.05,260],[64.15,380],[64.25,220],[64.35,320],[64.45,180],[64.55,280],[64.65,350],[64.75,200],[64.85,260],[65.05,230],[65.15,160],[65.25,300],[65.35,200],[65.45,140],[65.55,260],[65.65,180],[65.75,120],[65.85,210],[66.05,180],[66.15,120],[66.25,210],[66.35,100],[66.45,160],[66.55,85],[66.65,140],[66.75,110],[66.85,170],[67.05,150],[67.15,100],[67.25,120],[67.35,80],[67.45,160],[67.55,90],[67.65,130],[67.75,70],[67.85,110],[68.05,130],[68.15,90],[68.25,110],[68.35,70],[68.45,140],[68.55,85],[68.65,60],[68.75,120],[68.85,75],[69.05,120],[69.15,80],[69.25,140],[69.35,100],[69.45,65],[69.55,115],[69.65,85],[69.75,160],[69.85,90],[70.05,140],[70.15,100],[70.25,180],[70.35,120],[70.45,85],[70.55,160],[70.65,110],[70.75,200],[70.85,130],[71.05,160],[71.15,120],[71.25,200],[71.35,140],[71.45,100],[71.55,180],[71.65,130],[71.75,240],[71.85,110]];

const blueCoreC = [[72.05,150],[72.15,200],[72.25,110],[72.35,170],[72.45,130],[72.55,220],[72.65,120],[72.75,180],[72.85,140],[72.95,100],[73.05,170],[73.15,120],[73.25,200],[73.35,140],[73.45,110],[73.55,160],[73.65,130],[73.75,95],[73.85,150],[74.05,130],[74.15,95],[74.25,150],[74.35,110],[74.45,85],[74.55,130],[74.65,100],[74.75,75],[74.85,120],[75.05,110],[75.15,80],[75.25,130],[75.35,95],[75.45,70],[75.55,105],[75.65,85],[75.75,60],[75.85,120],[76.05,100],[76.15,70],[76.25,90],[76.35,60],[76.45,110],[76.55,80],[76.65,55],[76.75,95],[76.85,65],[77.05,85],[77.15,60],[77.25,110],[77.35,75],[77.45,50],[77.55,90],[77.65,65],[77.75,120],[77.85,55],[78.05,70],[78.15,95],[78.25,55],[78.35,85],[78.45,65],[78.55,45],[78.65,80],[78.75,60],[78.85,100],[79.05,75],[79.15,55],[79.25,90],[79.35,60],[79.45,80],[79.55,50],[79.65,70],[79.75,100],[79.85,62],[80.05,85],[80.15,60],[80.25,100],[80.35,70],[80.45,50],[80.55,80],[80.65,65],[80.75,45],[80.85,90],[81.05,60],[81.15,85],[81.25,45],[81.35,70],[81.45,55],[81.55,90],[81.65,40],[81.75,65],[81.85,50],[82.05,55],[82.15,75],[82.25,40],[82.35,60],[82.45,90],[82.55,48],[82.65,70],[82.75,35],[82.85,60],[83.05,65],[83.15,90],[83.25,50],[83.35,75],[83.45,110],[83.55,60],[83.65,45],[83.75,85],[83.85,55],[84.05,100],[84.15,70],[84.25,130],[84.35,85],[84.45,60],[84.55,110],[84.65,80],[84.75,150],[84.85,90],[85.05,90],[85.15,130],[85.25,70],[85.35,100],[85.45,160],[85.55,75],[85.65,110],[85.75,90],[85.85,140],[86.05,100],[86.15,150],[86.25,80],[86.35,120],[86.45,70],[86.55,110],[86.65,160],[86.75,90],[86.85,130],[87.05,95],[87.15,150],[87.25,80],[87.35,120],[87.45,180],[87.55,100],[87.65,140],[87.75,75],[87.85,110],[88.05,110],[88.15,80],[88.25,130],[88.35,95],[88.45,170],[88.55,90],[88.65,120],[88.75,65],[88.85,140],[89.05,90],[89.15,120],[89.25,70],[89.35,105],[89.45,80],[89.55,130],[89.65,95],[89.75,60],[89.85,110],[90.05,85],[90.15,60],[90.25,100],[90.35,75],[90.45,120],[90.55,65],[90.65,90],[90.75,50],[90.85,105],[91.05,70],[91.15,100],[91.25,55],[91.35,80],[91.45,120],[91.55,60],[91.65,95],[91.75,50],[91.85,75],[92.05,80],[92.15,55],[92.25,100],[92.35,70],[92.45,45],[92.55,90],[92.65,65],[92.75,110],[92.85,58],[93.05,70],[93.15,100],[93.25,60],[93.35,85],[93.45,120],[93.55,55],[93.65,80],[93.75,100],[93.85,65],[94.05,90],[94.15,60],[94.25,110],[94.35,80],[94.45,130],[94.55,70],[94.65,95],[94.75,55],[94.85,105],[95.05,80],[95.15,110],[95.25,60],[95.35,90],[95.45,70],[95.55,120],[95.65,75],[95.75,100],[95.85,60],[96.05,90],[96.15,120],[96.25,70],[96.35,100],[96.45,150],[96.55,80],[96.65,110],[96.75,65],[96.85,130],[97.05,100],[97.15,70],[97.25,120],[97.35,85],[97.45,140],[97.55,75],[97.65,110],[97.75,60],[97.85,95],[98.05,110],[98.15,80],[98.25,130],[98.35,95],[98.45,70],[98.55,120],[98.65,85],[98.75,150],[98.85,100],[99.05,90],[99.15,130],[99.25,75],[99.35,105],[99.45,150],[99.55,85],[99.65,120],[99.75,70],[99.85,110],[100.05,120],[100.15,90],[100.25,140],[100.35,100],[100.45,75],[100.55,115],[100.65,160],[100.75,95],[100.85,130],[101.05,100],[101.15,70],[101.25,120],[101.35,85],[101.45,60],[101.55,95],[101.65,75],[101.75,110],[101.85,55],[102.05,65],[102.15,90],[102.25,50],[102.35,75],[102.45,40],[102.55,60],[102.65,45],[102.75,70],[102.85,55],[103.05,70],[103.15,50],[103.25,90],[103.35,60],[103.45,40],[103.55,75],[103.65,55],[103.75,100],[103.85,45],[104.05,80],[104.15,60],[104.25,110],[104.35,70],[104.45,50],[104.55,95],[104.65,65],[104.75,130],[104.85,85]];

const bluePts = [].concat(blue1999, blue2000, blue2001, blue2002, blue2003, blue2004, blue2005, blue2006, blueCoreA, blueCoreB, blueCoreC);

const FONT = '"Liberation Sans", Arial, Helvetica, sans-serif';
const chart = echarts.init(document.getElementById('c'), null, {renderer: 'canvas'});
chart.setOption({
  animation: false,
  backgroundColor: '#ffffff',
  grid: {left: 214, right: 31, top: 21, bottom: 138, containLabel: false,
    show: true, borderColor: '#000', borderWidth: 1.5, backgroundColor: 'transparent'},
  xAxis: {
    type: 'value', min: 0, max: 108, interval: 12,
    axisLine: {onZero: false, lineStyle: {color: '#000', width: 1.5}},
    axisTick: {show: true, length: 12, lineStyle: {color: '#000', width: 1.5}},
    minorTick: {show: true, splitNumber: 3, length: 6, lineStyle: {color: '#000', width: 1.5}},
    minorSplitLine: {show: false},
    axisLabel: {fontFamily: FONT, fontSize: 30, color: '#000', margin: 30,
      formatter: function (v) { return xTickLabels[Math.round(v / 12)]; }},
    splitLine: {show: true, showMinLine: false, showMaxLine: false,
      lineStyle: {color: '#8a8a8a', width: 1.5, type: [10, 5]}},
    name: 'Start Date of Sample Collection', nameLocation: 'middle', nameGap: 91,
    nameTextStyle: {fontFamily: FONT, fontSize: 37.5, color: '#000'}
  },
  yAxis: {
    type: 'log', logBase: 10, min: 0.1, max: 100000, splitNumber: 6,
    axisLine: {show: true, onZero: false, lineStyle: {color: '#000', width: 1.5}},
    axisTick: {show: true, length: 10, lineStyle: {color: '#000', width: 1.5}},
    minorTick: {show: false},
    splitLine: {show: false},
    axisLabel: {fontFamily: FONT, fontSize: 30, color: '#000', margin: 27,
      formatter: function (v) { return yTickLabels[String(Math.round(Math.log10(v)))]; }},
    name: 'Aerosol Mass, micrograms per cubic meter', nameLocation: 'middle', nameGap: 165,
    nameRotate: 90,
    nameTextStyle: {fontFamily: FONT, fontSize: 38, color: '#000', padding: [0, 0, 0, 14]}
  },
  series: [
    {type: 'scatter', name: 'blue', data: bluePts, symbol: 'circle', symbolSize: 4.6, large: false,
      itemStyle: {color: '#ffffff', borderColor: '#0000ff', borderWidth: 2}, z: 2},
    {type: 'scatter', name: 'red', data: redPts, symbol: 'circle', symbolSize: 6,
      itemStyle: {color: '#ff0000', borderWidth: 0}, z: 3},
    {type: 'scatter', name: 'black', data: blackPts, symbol: 'circle', symbolSize: 4.6,
      itemStyle: {color: '#ffffff', borderColor: '#000000', borderWidth: 1.8}, z: 4}
  ]
});
</script>
</body></html>
